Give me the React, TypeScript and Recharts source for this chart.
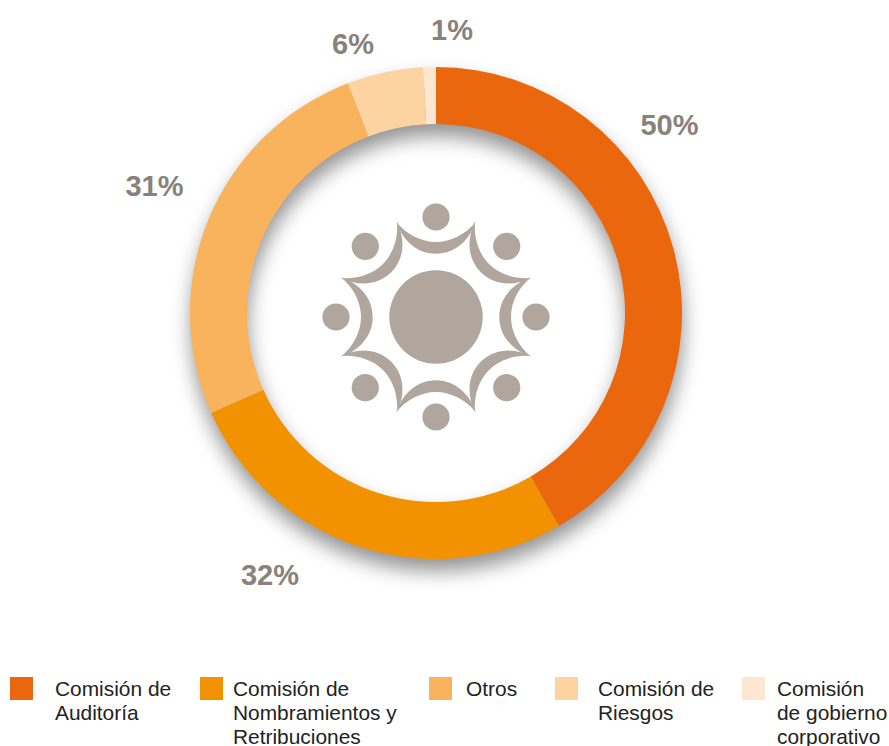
import { Cell, Legend, Pie, PieChart } from 'recharts'

const CATEGORIES = [
  ['Comisión de', 'Auditoría'],
  ['Comisión de', 'Nombramientos y', 'Retribuciones'],
  ['Otros'],
  ['Comisión de', 'Riesgos'],
  ['Comisión', 'de gobierno', 'corporativo'],
]
const VALUES = [50, 32, 31, 6, 1]
const COLORS = ['#ea670e', '#f39200', '#f8b35c', '#fcd3a1', '#fde7d0']

// hand placed in the original, not on the slice mid angle
const LABEL_POS = [
  [669.5, 125],
  [270, 575],
  [154.5, 186],
  [353, 44],
  [452, 30],
]
const SWATCH_X = [10, 200, 429, 555, 742]
const TEXT_X = [55, 233, 466, 598, 777]

const CX = 436
const CY = 313
const ICON_COLOR = '#b0a69e'

const pieData = VALUES.map((value, i) => ({
  name: CATEGORIES[i].join(' '),
  value,
  fill: COLORS[i],
}))
const shadowRing = [{ name: 'shadow', value: 1 }]

function renderLabel({ index, value }: { index: number; value: number }) {
  const [x, y] = LABEL_POS[index]
  return (
    <text
      key={index}
      x={x}
      y={y}
      textAnchor="middle"
      dominantBaseline="central"
      fill="#8a817a"
      fontSize={29}
      fontWeight={700}
      fontFamily="Liberation Sans, Arial, sans-serif"
    >
      {value}%
    </text>
  )
}

function renderLegend() {
  return (
    <div style={{ position: 'relative', width: 889, height: 746 }}>
      {CATEGORIES.map((lines, i) => (
        <div key={i}>
          <span
            style={{
              position: 'absolute',
              left: SWATCH_X[i],
              top: 677,
              width: 23,
              height: 23,
              background: COLORS[i],
            }}
          />
          <div
            style={{
              position: 'absolute',
              left: TEXT_X[i],
              top: 677,
              fontFamily: 'Liberation Sans, Arial, sans-serif',
              fontSize: 20.9,
              lineHeight: '24px',
              color: '#222',
              whiteSpace: 'nowrap',
            }}
          >
            {lines.map((line) => (
              <div key={line}>{line}</div>
            ))}
          </div>
        </div>
      ))}
    </div>
  )
}

function PeopleIcon() {
  const crescent =
    'M-39.7 -95 C-34 -78 -20 -63.3 0 -63.3 C20 -63.3 34 -78 39.7 -95 C30 -83 15 -75 0 -75 C-15 -75 -30 -83 -39.7 -95 Z'
  const spokes = [0, 45, 90, 135, 180, 225, 270, 315]
  return (
    <svg
      width={889}
      height={746}
      style={{ position: 'absolute', left: 0, top: 0, pointerEvents: 'none' }}
    >
      <g transform="translate(436 317)" fill={ICON_COLOR}>
        <circle r={46.7} />
        {spokes.map((a) => (
          <g key={a} transform={`rotate(${a})`}>
            <circle cy={-100} r={13.6} />
            <path d={crescent} />
          </g>
        ))}
      </g>
    </svg>
  )
}

export default function App() {
  return (
    <div
      style={{
        position: 'absolute',
        left: 0,
        top: 0,
        width: 889,
        height: 746,
        background: '#fff',
        overflow: 'hidden',
      }}
    >
      <PieChart width={889} height={746} margin={{ top: 0, right: 0, bottom: 0, left: 0 }}>
        <defs>
          <filter id="ringShadow" x="-30%" y="-30%" width="160%" height="160%">
            <feGaussianBlur stdDeviation="9.5" />
          </filter>
        </defs>
        <Pie
          data={shadowRing}
          dataKey="value"
          cx={CX + 1}
          cy={CY + 12}
          innerRadius={189}
          outerRadius={246}
          startAngle={90}
          endAngle={-270}
          stroke="none"
          legendType="none"
          isAnimationActive={false}
        >
          <Cell fill="#000" fillOpacity={0.42} filter="url(#ringShadow)" />
        </Pie>
        <Pie
          data={pieData}
          dataKey="value"
          cx={CX}
          cy={CY}
          innerRadius={189}
          outerRadius={246}
          startAngle={90}
          endAngle={-270}
          stroke="none"
          label={renderLabel as any}
          labelLine={false}
          isAnimationActive={false}
        >
          {pieData.map((d) => (
            <Cell key={d.name} fill={d.fill} />
          ))}
        </Pie>
        <Legend content={renderLegend} wrapperStyle={{ left: 0, top: 0, bottom: 'auto', width: 889 }} />
      </PieChart>
      <PeopleIcon />
    </div>
  )
}
